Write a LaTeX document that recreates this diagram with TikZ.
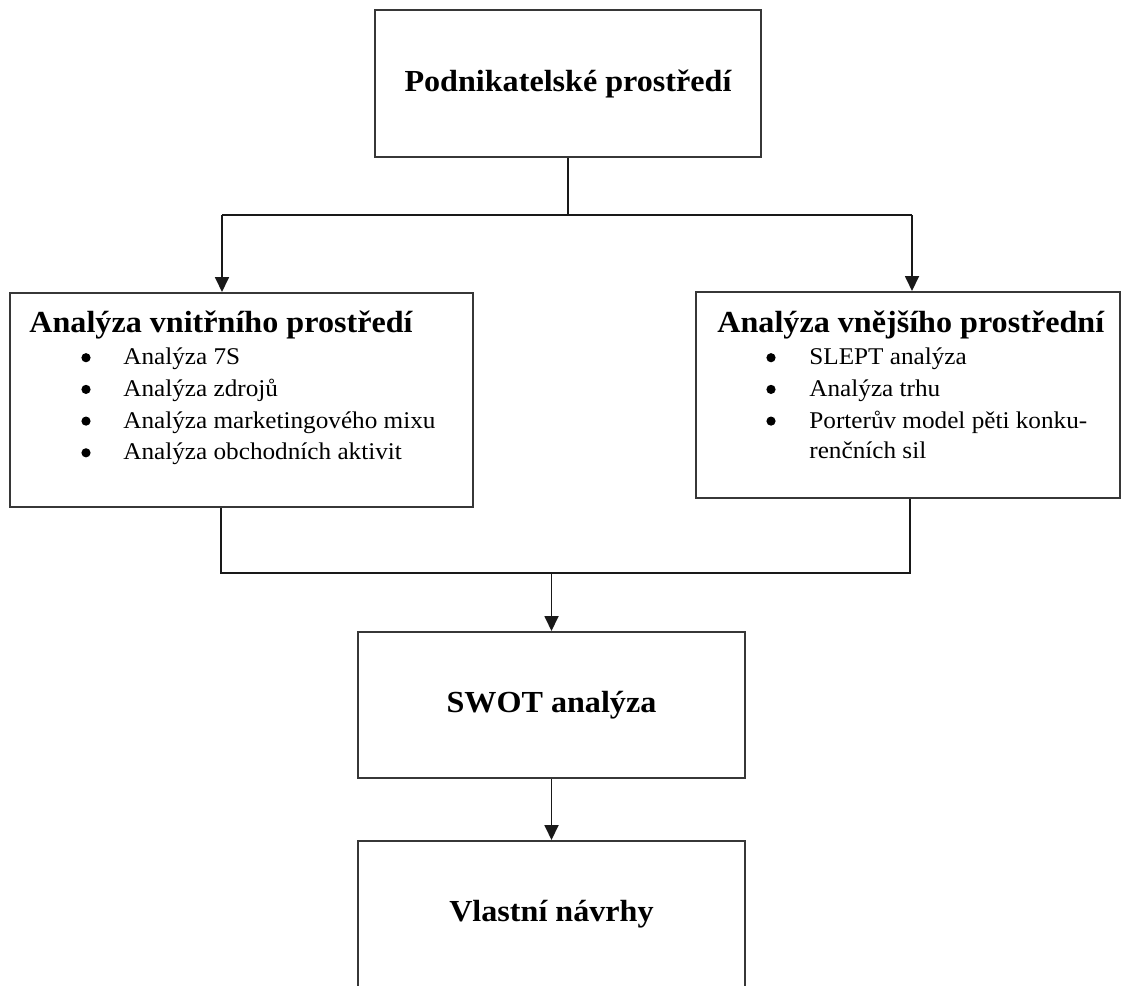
\documentclass[tikz,border=0pt]{standalone}
\usepackage{fontspec}
\setmainfont[FakeStretch=1.05]{Liberation Serif}
\usepackage{tikz}
\usetikzlibrary{arrows.meta}
\usepackage{xcolor}
\definecolor{ColLine}{RGB}{25,25,25}
\definecolor{ColBox}{RGB}{55,55,55}
\tikzstyle{BoxDiag}=[rectangle,draw=ColBox,line width=1pt,inner sep=0pt]
\tikzstyle{TitleDiag}=[font=\fontsize{15.3pt}{18pt}\selectfont\bfseries]
\tikzstyle{HeadDiag}=[TitleDiag,anchor=base west,inner sep=0pt]
\tikzstyle{ItemDiag}=[font=\fontsize{12pt}{14pt}\selectfont,anchor=base west,inner sep=0pt]
\tikzstyle{DotDiag}=[circle,fill=black,inner sep=0pt,minimum width=4.6pt,minimum height=4.2pt]
\tikzstyle{EdgeDiag}=[ColLine,line width=0.9pt]
\tikzstyle{ArcDiag}=[EdgeDiag,-{Triangle[length=7.5pt,width=7pt]}]

\begin{document}
\begin{tikzpicture}[x=0.5pt,y=-0.5pt]
    \useasboundingbox (0,0) rectangle (1123,985);
    % boxes
    \node[BoxDiag,TitleDiag,minimum width=193pt,minimum height=73.5pt](env)at(568,83.5){Podnikatelské prostředí};
    \node[BoxDiag,minimum width=231.5pt,minimum height=107pt](inner)at(241.5,400){};
    \node[BoxDiag,minimum width=212pt,minimum height=103pt](outer)at(908,395){};
    \node[BoxDiag,TitleDiag,minimum width=193.5pt,minimum height=73pt](swot)at(551.5,705){SWOT analýza};
    \node[BoxDiag,TitleDiag,minimum width=193.5pt,minimum height=73pt](own)at(551.5,914){Vlastní návrhy};
    % texts of the two analysis boxes
    \node[HeadDiag](innerhead)at(29,332){Analýza vnitřního prostředí};
    \node[HeadDiag](outerhead)at(717,332){Analýza vnějšího prostřední};
    \foreach \txt [count=\i] in {Analýza 7S,Analýza zdrojů,Analýza marketingového mixu,Analýza obchodních aktivit}{
        \node[ItemDiag](inner\i)at(123,{333+31.7*\i}){\txt};
        \node[DotDiag](innerdot\i)at(86,{326+31.7*\i}){};
    }
    \foreach \txt [count=\i] in {SLEPT analýza,Analýza trhu,Porterův model pěti konku-}{
        \node[ItemDiag](outer\i)at(809,{333+31.7*\i}){\txt};
        \node[DotDiag](outerdot\i)at(771,{326+31.7*\i}){};
    }
    \node[ItemDiag](outer4)at(809,458){renčních sil};
    % connectors
    \coordinate(split)at(568,215);
    \coordinate(splitl)at(222,215);
    \coordinate(splitr)at(912,215);
    \draw[EdgeDiag](env)--(split);
    \draw[EdgeDiag](splitl)--(splitr);
    \draw[ArcDiag](splitl)--(splitl|-inner.north);
    \draw[ArcDiag](splitr)--(splitr|-outer.north);
    \coordinate(joinl)at(221,573);
    \coordinate(joinr)at(910,573);
    \coordinate(join)at(551.5,573);
    \draw[EdgeDiag](joinl|-inner.south)--(joinl)--(joinr)--(joinr|-outer.south);
    \draw[ArcDiag](join)--(swot);
    \draw[ArcDiag](swot)--(own);
\end{tikzpicture}
\end{document}
